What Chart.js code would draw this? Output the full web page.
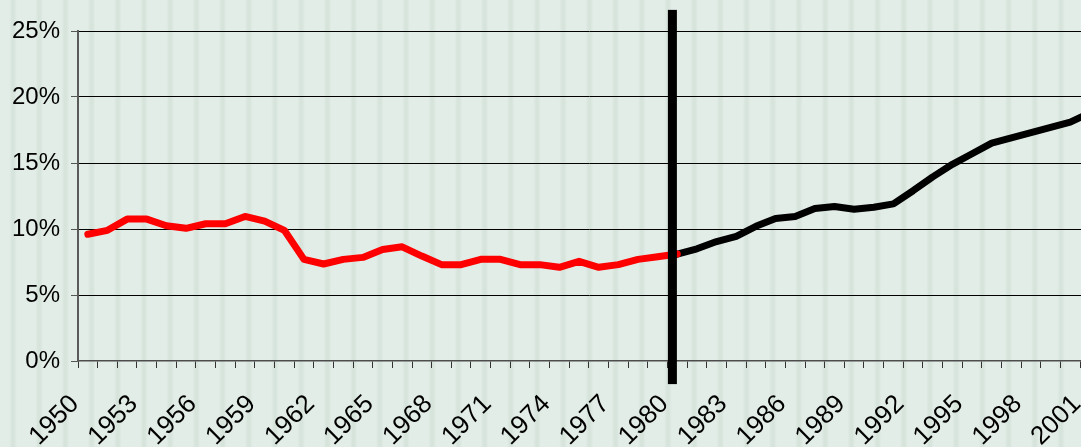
<!DOCTYPE html>
<html>
<head>
<meta charset="utf-8">
<script src="https://cdn.jsdelivr.net/npm/chart.js@4"></script>
<style>
    html, body {
        margin: 0;
        padding: 0;
        overflow: hidden;
    }
    body {
        width: 1081px;
        height: 447px;
        background-color: #e3ede7;
        background-image: repeating-linear-gradient(90deg,
            #e3ede7 0px, #e3ede7 9px, #d6e4dc 12px, #d6e4dc 14px, #e3ede7 17px, #e3ede7 26.2px);
    }
    #chart {
        position: absolute;
        left: 0;
        top: 0;
    }
</style>
</head>
<body>
<canvas id="chart" width="1133" height="447"></canvas>
<script>
const years = [
    1950, 1951, 1952, 1953, 1954, 1955, 1956, 1957, 1958, 1959,
    1960, 1961, 1962, 1963, 1964, 1965, 1966, 1967, 1968, 1969,
    1970, 1971, 1972, 1973, 1974, 1975, 1976, 1977, 1978, 1979,
    1980, 1981, 1982, 1983, 1984, 1985, 1986, 1987, 1988, 1989,
    1990, 1991, 1992, 1993, 1994, 1995, 1996, 1997, 1998, 1999,
    2000, 2001
];

// 1950 - 1980 (red)
const beforeValues = [
    9.6, 9.9, 10.75, 10.75, 10.25, 10.05, 10.4, 10.4, 10.95, 10.6,
    9.9, 7.7, 7.35, 7.7, 7.85, 8.45, 8.65, 7.95, 7.3, 7.3,
    7.7, 7.7, 7.3, 7.3, 7.1, 7.55, 7.1, 7.3, 7.7, 7.9,
    8.1
];

// 1980 - 2001 (black)
const afterValues = [
    8.1, 8.5, 9.05, 9.45, 10.2, 10.8, 10.95, 11.55, 11.7, 11.5,
    11.65, 11.9, 12.9, 13.95, 14.9, 15.7, 16.5, 16.9, 17.3, 17.7,
    18.1, 18.8
];

const yTicks = [0, 5, 10, 15, 20, 25];
const breakYear = 1980;

const breakIndex = years.indexOf(breakYear);
const redData = years.map((y, i) => i <= breakIndex ? beforeValues[i] : null);
const blackData = years.map((y, i) => i >= breakIndex ? afterValues[i - breakIndex] : null);

// thick vertical marker at the break year
const breakLine = {
    id: 'breakLine',
    afterDatasetsDraw(chart) {
        const x = chart.scales.x.getPixelForValue(breakIndex - 0.25);
        const yTop = chart.scales.y.getPixelForValue(26.6);
        const yBottom = chart.scales.y.getPixelForValue(-1.75);
        const ctx = chart.ctx;
        ctx.save();
        ctx.fillStyle = '#000';
        ctx.fillRect(x - 4.5, yTop, 9, yBottom - yTop);
        ctx.restore();
    }
};

const family = '"Liberation Sans", Arial, sans-serif';

new Chart(document.getElementById('chart'), {
    type: 'line',
    data: {
        labels: years,
        datasets: [{
            data: redData,
            borderColor: '#ff0000',
            borderWidth: 7,
            borderCapStyle: 'round',
            borderJoinStyle: 'round',
            pointRadius: 0,
            tension: 0
        }, {
            data: blackData,
            borderColor: '#000000',
            borderWidth: 7,
            borderCapStyle: 'round',
            borderJoinStyle: 'round',
            pointRadius: 0,
            tension: 0
        }]
    },
    options: {
        responsive: false,
        animation: false,
        layout: { padding: { top: 31, left: 0, right: 0, bottom: 0 } },
        plugins: {
            legend: { display: false },
            tooltip: { enabled: false }
        },
        scales: {
            x: {
                offset: true,
                grid: {
                    offset: true,
                    drawOnChartArea: false,
                    drawTicks: true,
                    tickLength: 7,
                    tickColor: '#333'
                },
                border: { color: '#4d4d4d', width: 1.5 },
                ticks: {
                    autoSkip: false,
                    minRotation: 45,
                    maxRotation: 45,
                    padding: 21,
                    labelOffset: -13,
                    color: '#000',
                    font: { family: family, size: 26 },
                    callback: function(val, idx) {
                        return idx % 3 === 0 ? String(years[idx]) : '';
                    }
                },
                afterFit: function(scale) {
                    scale.height = 86;
                }
            },
            y: {
                min: 0,
                max: 25,
                afterBuildTicks: function(scale) {
                    scale.ticks = yTicks.map(v => ({ value: v }));
                },
                grid: {
                    color: ctx => ctx.tick && ctx.tick.value === 0 ? 'rgba(0,0,0,0)' : '#000',
                    lineWidth: 1,
                    tickLength: 7,
                    tickColor: '#555'
                },
                border: { color: '#5a5a5a', width: 2 },
                ticks: {
                    padding: 11,
                    color: '#000',
                    font: { family: family, size: 24 },
                    callback: v => v + '%'
                },
                afterFit: function(scale) {
                    scale.width = 78;
                }
            }
        }
    },
    plugins: [breakLine]
});
</script>
</body>
</html>
